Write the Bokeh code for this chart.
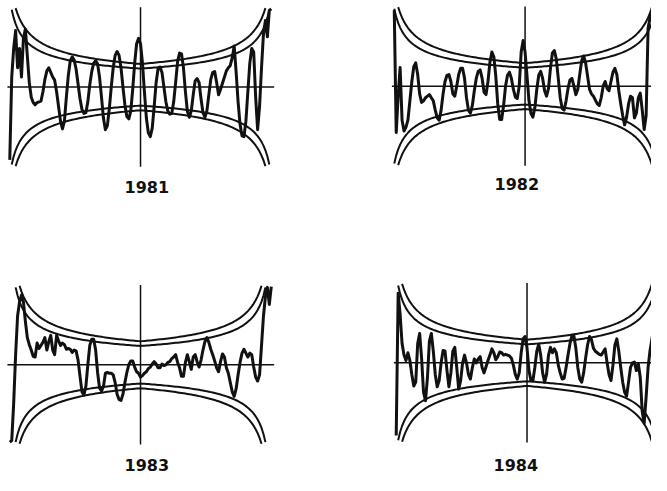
import numpy as np
from bokeh.plotting import figure
from bokeh.layouts import column, row
from bokeh.models import Range1d, Label
from bokeh.embed import file_html
from bokeh.resources import INLINE

# ---------------- data ----------------
lags = list(range(-67, 68))
years = ["1981", "1982", "1983", "1984"]
n_obs = [70, 71, 68, 70]          # series length used for the confidence bands
z_inner = 2.0
z_outer = 2.5

ccf_1981 = [
    -0.94, 0.13, 0.50, 0.73, 0.25, 0.50, 0.13, 0.63, 0.75, 0.40,
    0.06, -0.13, -0.20, -0.23, -0.20, -0.19, -0.18, -0.06, 0.10, 0.21,
    0.25, 0.19, 0.13, 0.09, -0.06, -0.25, -0.44, -0.54, -0.44, -0.13,
    0.15, 0.34, 0.39, 0.35, 0.23, 0.04, -0.15, -0.29, -0.34, -0.33,
    -0.19, 0.03, 0.20, 0.31, 0.34, 0.30, 0.13, -0.13, -0.40, -0.55,
    -0.50, -0.28, 0.00, 0.25, 0.41, 0.46, 0.41, 0.25, 0.00, -0.23,
    -0.38, -0.41, -0.31, -0.03, 0.31, 0.56, 0.63, 0.56, 0.31, -0.06,
    -0.40, -0.59, -0.64, -0.53, -0.25, 0.06, 0.24, 0.26, 0.19, 0.00,
    -0.19, -0.31, -0.35, -0.34, -0.19, 0.06, 0.33, 0.44, 0.43, 0.25,
    -0.06, -0.31, -0.39, -0.31, -0.10, 0.08, 0.11, 0.06, -0.15, -0.33,
    -0.39, -0.31, -0.10, 0.10, 0.19, 0.20, 0.06, -0.10, -0.03, 0.05,
    0.13, 0.21, 0.25, 0.28, 0.38, 0.53, 0.19, -0.19, -0.48, -0.63,
    -0.64, -0.44, -0.06, 0.31, 0.50, 0.45, -0.13, -0.55, -0.25, 0.25,
    0.69, 0.86, 0.65, 0.99, 1.01,
]
ccf_1982 = [
    0.98, -0.60, -0.13, 0.24, -0.44, -0.58, -0.53, -0.44, -0.19, 0.06,
    0.25, 0.30, 0.15, -0.10, -0.21, -0.19, -0.15, -0.13, -0.11, -0.15,
    -0.19, -0.31, -0.41, -0.44, -0.31, -0.10, 0.06, 0.14, 0.15, 0.06,
    -0.10, -0.13, 0.00, 0.15, 0.23, 0.23, 0.10, -0.15, -0.31, -0.35,
    -0.25, -0.06, 0.10, 0.19, 0.21, 0.10, -0.08, -0.11, 0.06, 0.31,
    0.44, 0.38, 0.13, -0.23, -0.43, -0.43, -0.25, 0.00, 0.14, 0.18,
    0.10, -0.04, -0.14, -0.16, 0.00, 0.44, 0.59, 0.44, 0.13, -0.19,
    -0.35, -0.40, -0.28, -0.04, 0.14, 0.19, 0.10, -0.06, -0.13, -0.03,
    0.23, 0.43, 0.46, 0.35, 0.10, -0.15, -0.29, -0.31, -0.19, -0.03,
    0.08, 0.10, 0.00, -0.11, -0.04, 0.15, 0.33, 0.39, 0.30, 0.13,
    -0.04, -0.10, -0.13, -0.18, -0.23, -0.25, -0.15, 0.00, 0.06, -0.03,
    -0.06, 0.06, 0.18, 0.23, 0.15, -0.06, -0.23, -0.38, -0.50, -0.40,
    -0.23, -0.13, -0.15, -0.41, -0.35, -0.15, -0.09, -0.31, -0.56, -0.38,
    0.75, 0.88, 0.94, 0.98, 1.00,
]
ccf_1983 = [
    -1.00, -0.98, -0.50, 0.13, 0.63, 0.81, 0.90, 0.81, 0.56, 0.35,
    0.26, 0.19, 0.11, 0.10, 0.28, 0.21, 0.25, 0.29, 0.35, 0.19,
    0.30, 0.38, 0.19, 0.13, 0.38, 0.31, 0.25, 0.28, 0.26, 0.20,
    0.21, 0.20, 0.16, 0.19, 0.18, 0.06, -0.15, -0.35, -0.39, -0.28,
    0.00, 0.25, 0.33, 0.33, 0.19, -0.10, -0.30, -0.34, -0.28, -0.11,
    -0.10, -0.11, -0.11, -0.13, -0.23, -0.38, -0.45, -0.46, -0.38, -0.23,
    -0.10, 0.00, 0.05, 0.05, -0.03, -0.09, -0.11, -0.16, -0.14, -0.11,
    -0.09, -0.05, -0.03, 0.01, 0.04, 0.01, -0.04, -0.04, 0.01, -0.01,
    0.00, 0.03, 0.04, 0.08, 0.10, 0.13, 0.03, -0.04, -0.15, -0.15,
    0.03, 0.13, 0.04, -0.06, 0.10, 0.13, 0.04, -0.03, 0.06, 0.19,
    0.30, 0.35, 0.29, 0.20, 0.13, 0.05, -0.04, -0.09, 0.04, 0.14,
    0.10, -0.04, -0.11, -0.23, -0.35, -0.41, -0.31, -0.13, 0.03, 0.15,
    0.20, 0.15, 0.10, 0.15, 0.13, -0.03, -0.16, -0.21, -0.13, 0.25,
    0.63, 0.88, 1.00, 0.78, 1.01,
]
ccf_1984 = [
    -0.94, 0.90, 0.63, 0.25, 0.10, 0.03, 0.13, 0.03, -0.15, -0.30,
    -0.25, 0.25, 0.38, 0.06, -0.38, -0.49, -0.19, 0.28, 0.38, 0.15,
    -0.15, -0.31, -0.23, 0.00, 0.16, 0.15, -0.10, -0.31, -0.13, 0.15,
    0.20, -0.06, -0.34, -0.23, 0.00, 0.10, 0.00, -0.15, -0.21, -0.06,
    0.05, 0.00, 0.05, 0.08, -0.06, -0.13, -0.05, 0.03, 0.10, 0.18,
    0.13, 0.04, 0.08, 0.14, 0.13, 0.10, 0.11, 0.10, 0.09, 0.06,
    -0.03, -0.15, -0.21, -0.13, 0.13, 0.31, 0.34, 0.19, -0.10, -0.23,
    -0.23, -0.06, 0.15, 0.24, 0.10, -0.13, -0.25, -0.15, 0.10, 0.20,
    0.13, 0.18, 0.13, -0.03, -0.13, -0.21, -0.20, -0.06, 0.10, 0.25,
    0.35, 0.35, 0.19, -0.06, -0.21, -0.25, -0.13, 0.06, 0.23, 0.34,
    0.30, 0.19, 0.15, 0.13, 0.11, 0.10, 0.14, 0.18, 0.00, -0.15,
    -0.23, -0.03, 0.23, 0.31, 0.15, -0.06, -0.25, -0.38, -0.43, -0.25,
    -0.06, 0.00, 0.01, -0.10, -0.01, -0.19, -0.63, -0.78, -0.44, -0.06,
    0.16, 0.31, 0.50, 0.69, 0.88,
]
series = [ccf_1981, ccf_1982, ccf_1983, ccf_1984]

# ---------------- layout ----------------
# Geometry is described in a 667x491 design space and shrunk to fit the
# 651x475 space available inside the page margins.
PX_PER_LAG = 2.0
PX_PER_UNIT = 80.0
PANEL_LIM = 1.03
INK = "#111111"

# fig_x, fig_y, width, height, out_w, out_h, centre x, zero y, label x, label y
geom = [
    (0, 0, 330, 247, 322, 239, 143.5, 89.5, 150, 193),
    (330, 0, 337, 247, 329, 239, 537.5, 88.5, 529, 190),
    (0, 247, 330, 244, 322, 236, 143.5, 376.5, 150, 480),
    (330, 247, 337, 244, 329, 236, 539.5, 374.5, 528, 480),
]

lag_arr = np.array(lags, dtype=float)
figs = []
for vals, year, n, (fx, fy, w, h, ow, oh, cx, zy, lx, ly) in zip(series, years, n_obs, geom):
    p = figure(
        width=ow, height=oh,
        x_range=Range1d((fx - cx) / PX_PER_LAG, (fx + w - cx) / PX_PER_LAG),
        y_range=Range1d((zy - (fy + h)) / PX_PER_UNIT, (zy - fy) / PX_PER_UNIT),
        x_axis_type=None, y_axis_type=None,
        toolbar_location=None, output_backend="svg",
        min_border=0, outline_line_color=None,
        background_fill_color="white", border_fill_color="white",
    )
    p.xgrid.visible = False
    p.ygrid.visible = False

    inner = z_inner / np.sqrt(n - np.abs(lag_arr))
    outer = z_outer / np.sqrt(n - np.abs(lag_arr))
    # the bands leave the panel frame near its ends: stop drawing there
    inner = np.where(inner > PANEL_LIM, np.nan, inner)
    outer = np.where(outer > PANEL_LIM, np.nan, outer)
    for band in (inner, -inner, outer, -outer):
        p.line(lag_arr, band, line_color=INK, line_width=2.0, line_join="round")

    # axes cross
    p.segment(x0=[0], y0=[-PANEL_LIM], x1=[0], y1=[PANEL_LIM], line_color=INK, line_width=1.5)
    p.segment(x0=[lag_arr[0] - 1.2], y0=[0], x1=[lag_arr[-1] + 1.5], y1=[0],
              line_color=INK, line_width=1.5)

    p.line(lag_arr, vals, line_color=INK, line_width=3.0, line_join="round")

    p.add_layout(Label(
        x=(lx - cx) / PX_PER_LAG, y=(zy - ly) / PX_PER_UNIT, text=year,
        text_align="center", text_baseline="middle",
        text_font="DejaVu Sans", text_font_style="bold", text_font_size="16px",
        text_color=INK,
    ))
    figs.append(p)

layout = column(row(figs[0], figs[1]), row(figs[2], figs[3]))
open("out.html", "w").write(file_html(layout, INLINE))
